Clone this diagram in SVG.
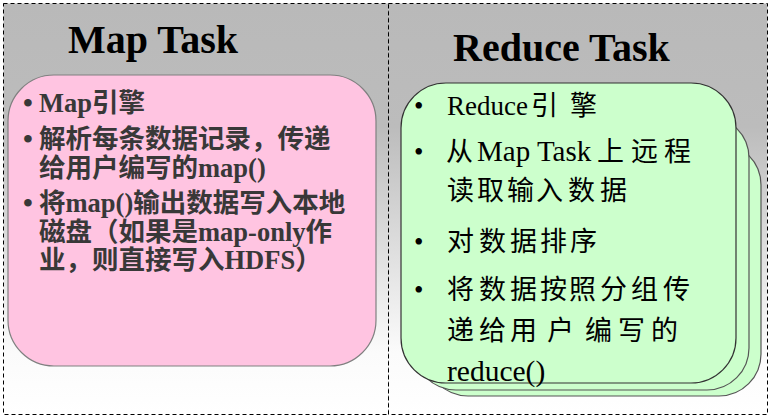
<svg xmlns="http://www.w3.org/2000/svg" width="771" height="418" viewBox="0 0 771 418">
<defs>
<linearGradient id="bg" x1="0" y1="0" x2="0" y2="1">
<stop offset="0" stop-color="#b9b9b9"/>
<stop offset="0.3" stop-color="#bcbcbc"/>
<stop offset="0.85" stop-color="#fbfbfb"/>
<stop offset="1" stop-color="#ffffff"/>
</linearGradient>
</defs>
<style>
.panel{fill:url(#bg);stroke:#000;stroke-width:1;stroke-dasharray:4 3}
.title{font-family:"Liberation Serif","Noto Sans CJK SC",serif;font-weight:bold;font-size:40px;fill:#000}
.pink{fill:#ffc4e1;stroke:#808080;stroke-width:1.2}
.green{fill:#ccffcc;stroke:#333;stroke-width:1.2}
.green2{fill:#ccffcc;stroke:#555;stroke-width:1.2}
.ltxt{font-family:"Liberation Serif","Noto Sans CJK SC",serif;font-weight:bold;font-size:26.5px;fill:#383838}
.rtxt{font-family:"Liberation Serif","Noto Sans CJK SC",serif;font-size:27px;fill:#000}
.lat{font-size:28px}
</style>
<g id="panel-map">
<rect class="panel" x="3.5" y="3.5" width="385" height="411"/>
<text class="title" x="68" y="53">Map Task</text>
</g>
<g id="panel-reduce">
<rect class="panel" x="388.5" y="3.5" width="379" height="411"/>
<text class="title" x="453" y="61">Reduce Task</text>
</g>
<g id="connectors"/>
<g id="map-task">
<rect class="pink" x="8" y="75" width="368" height="291" rx="46" ry="46"/>
<text class="ltxt" y="112"><tspan x="23" class="lat">•</tspan><tspan x="39">Map引擎</tspan></text>
<text class="ltxt" y="148"><tspan x="23" class="lat">•</tspan><tspan x="39">解析每条数据记录，传递</tspan></text>
<text class="ltxt" x="39" y="177">给用户编写的map()</text>
<text class="ltxt" y="212"><tspan x="23" class="lat">•</tspan><tspan x="39">将map()输出数据写入本地</tspan></text>
<text class="ltxt" x="39" y="241">磁盘（如果是map-only作</text>
<text class="ltxt" x="39" y="269">业，则直接写入HDFS）</text>
</g>
<g id="reduce-task">
<rect class="green2" x="426" y="143" width="335" height="253" rx="42" ry="42"/>
<rect class="green2" x="414" y="116" width="335" height="274" rx="42" ry="42"/>
<rect class="green" x="401" y="83" width="335" height="300" rx="45" ry="45"/>
<text class="rtxt" y="115"><tspan x="414">•</tspan><tspan x="447">Reduce</tspan><tspan x="531 570">引擎</tspan></text>
<text class="rtxt" y="161"><tspan x="414">•</tspan><tspan x="446">从</tspan><tspan x="477" style="font-size:29px">Map Task</tspan><tspan x="597 631 664">上远程</tspan></text>
<text class="rtxt" y="200"><tspan x="447 477 507 536 568 600">读取输入数据</tspan></text>
<text class="rtxt" y="251"><tspan x="414">•</tspan><tspan x="447 479 510 540 570">对数据排序</tspan></text>
<text class="rtxt" y="299"><tspan x="414">•</tspan><tspan x="447 479 510 540 569 600 631 663">将数据按照分组传</tspan></text>
<text class="rtxt" y="340"><tspan x="447 479 510 547 585 618 651">递给用户编写的</tspan></text>
<text class="rtxt" x="447" y="381" style="font-size:29.5px">reduce()</text>
</g>
</svg>
